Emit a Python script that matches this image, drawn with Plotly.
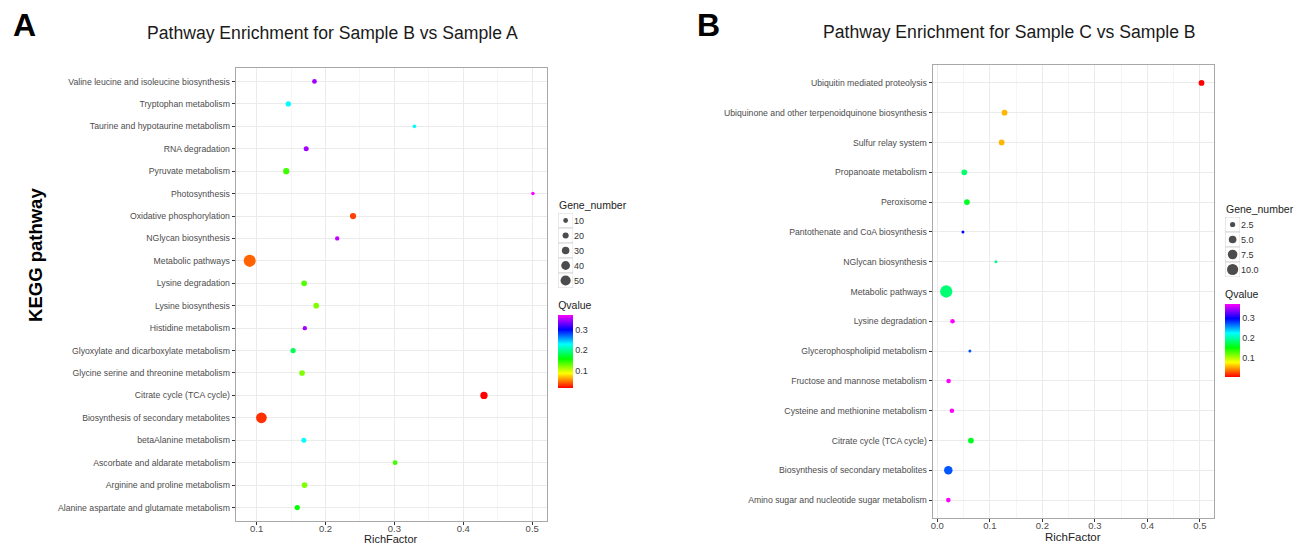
import numpy as np
import plotly.graph_objects as go

# ---------------- Panel A data (top to bottom) ----------------
pathways_a = [
    "Valine leucine and isoleucine biosynthesis", "Tryptophan metabolism",
    "Taurine and hypotaurine metabolism", "RNA degradation", "Pyruvate metabolism",
    "Photosynthesis", "Oxidative phosphorylation", "NGlycan biosynthesis",
    "Metabolic pathways", "Lysine degradation", "Lysine biosynthesis",
    "Histidine metabolism", "Glyoxylate and dicarboxylate metabolism",
    "Glycine serine and threonine metabolism", "Citrate cycle (TCA cycle)",
    "Biosynthesis of secondary metabolites", "betaAlanine metabolism",
    "Ascorbate and aldarate metabolism", "Arginine and proline metabolism",
    "Alanine aspartate and glutamate metabolism",
]
rich_a = [0.184, 0.146, 0.329, 0.172, 0.143, 0.501, 0.240, 0.217, 0.090, 0.169,
          0.1865, 0.170, 0.153, 0.166, 0.430, 0.107, 0.1686, 0.301, 0.1696, 0.159]
qvalue_a = [0.345, 0.228, 0.228, 0.345, 0.139, 0.370, 0.032, 0.353, 0.042, 0.133,
            0.121, 0.345, 0.180, 0.121, 0.014, 0.027, 0.228, 0.139, 0.121, 0.156]
genes_a = [10, 14, 2, 12, 21, 1, 21, 7, 64, 17, 17, 7, 14, 17, 29, 54, 12, 10, 17, 14]
size_breaks_a = [10, 20, 30, 40, 50]
size_labels_a = ["10", "20", "30", "40", "50"]

# ---------------- Panel B data (top to bottom) ----------------
pathways_b = [
    "Ubiquitin mediated proteolysis",
    "Ubiquinone and other terpenoidquinone biosynthesis", "Sulfur relay system",
    "Propanoate metabolism", "Peroxisome", "Pantothenate and CoA biosynthesis",
    "NGlycan biosynthesis", "Metabolic pathways", "Lysine degradation",
    "Glycerophospholipid metabolism", "Fructose and mannose metabolism",
    "Cysteine and methionine metabolism", "Citrate cycle (TCA cycle)",
    "Biosynthesis of secondary metabolites",
    "Amino sugar and nucleotide sugar metabolism",
]
rich_b = [0.503, 0.128, 0.1225, 0.0514, 0.0564, 0.0488, 0.1116, 0.017, 0.029,
          0.062, 0.0215, 0.0278, 0.064, 0.021, 0.021]
qvalue_b = [0.005, 0.057, 0.057, 0.181, 0.161, 0.297, 0.188, 0.184, 0.370,
            0.273, 0.370, 0.370, 0.161, 0.272, 0.370]
genes_b = [3, 3, 3, 3, 3, 1, 1, 12, 2, 1, 2, 2, 3, 6, 2]
size_breaks_b = [2.5, 5.0, 7.5, 10.0]
size_labels_b = ["2.5", "5.0", "7.5", "10.0"]

qvalue_ticks = [0.1, 0.2, 0.3]

W, H = 1299, 544
FONT = "Liberation Sans, Arial, sans-serif"
rainbow = [[0.0, "#FF0000"], [0.2, "#FFFF00"], [0.4, "#00FF00"],
           [0.6, "#00FFFF"], [0.8, "#0000FF"], [1.0, "#FF00FF"]]


def size_a(g):
    return 3.4 + 0.135 * np.asarray(g, dtype=float)


def size_b(g):
    return 3.774 * np.sqrt(np.asarray(g, dtype=float)) - 0.774


def px_x(p):
    return p / W


def px_y(p):
    return 1 - p / H


fig = go.Figure()

fig.add_trace(go.Scatter(
    x=rich_a, y=pathways_a, mode="markers", xaxis="x", yaxis="y",
    marker=dict(size=size_a(genes_a), color=qvalue_a, coloraxis="coloraxis",
                opacity=1, line=dict(width=0)),
    showlegend=False, hoverinfo="x+y"))
fig.add_trace(go.Scatter(
    x=rich_b, y=pathways_b, mode="markers", xaxis="x2", yaxis="y2",
    marker=dict(size=size_b(genes_b), color=qvalue_b, coloraxis="coloraxis2",
                opacity=1, line=dict(width=0)),
    showlegend=False, hoverinfo="x+y"))

# size legends drawn in small helper axes (key boxes + dots)
for labels, breaks, fn, xa, ya in [(size_labels_a, size_breaks_a, size_a, "x3", "y3"),
                                   (size_labels_b, size_breaks_b, size_b, "x4", "y4")]:
    fig.add_trace(go.Scatter(
        x=[0] * len(labels), y=labels, mode="markers", xaxis=xa, yaxis=ya,
        marker=dict(symbol="square", size=15, color="white",
                    line=dict(color="#D6D6D6", width=1)),
        showlegend=False, hoverinfo="skip"))
    fig.add_trace(go.Scatter(
        x=[0] * len(labels), y=labels, mode="markers", xaxis=xa, yaxis=ya,
        marker=dict(size=fn(breaks), color="black", line=dict(width=0)),
        showlegend=False, hoverinfo="skip"))

grid_major = "#EBEBEB"
grid_minor = "#F5F5F5"
border = "#A8A8A8"
tickfont = dict(family=FONT, size=8.7, color="#4D4D4D")


def xaxis_cfg(domain, rng, anchor):
    return dict(domain=domain, range=rng, anchor=anchor, dtick=0.1, tick0=0,
                tickformat=".1f",
                showgrid=True, gridcolor=grid_major, gridwidth=1,
                minor=dict(dtick=0.05, tick0=0, showgrid=True, gridcolor=grid_minor,
                           gridwidth=1, ticks=""),
                showline=True, mirror=True, linecolor=border, linewidth=1,
                ticks="outside", ticklen=3, tickcolor="#333333", tickwidth=1,
                ticklabelstandoff=-4,
                tickfont=dict(family=FONT, size=9.5, color="#4D4D4D"),
                zeroline=False, fixedrange=True)


def yaxis_cfg(domain, cats, anchor):
    n = len(cats)
    return dict(domain=domain, type="category", categoryorder="array",
                categoryarray=cats, range=[n - 0.4, -0.6], anchor=anchor,
                showgrid=True, gridcolor=grid_major, gridwidth=1,
                showline=True, mirror=True, linecolor=border, linewidth=1,
                ticks="outside", ticklen=3, tickcolor="#333333", tickwidth=1,
                tickfont=tickfont, zeroline=False, fixedrange=True)


def key_x(domain, anchor):
    return dict(domain=domain, range=[-1, 1], anchor=anchor, visible=False, fixedrange=True)


def key_y(domain, cats, anchor):
    n = len(cats)
    return dict(domain=domain, type="category", categoryorder="array", categoryarray=cats,
                range=[n - 0.5, -0.5], anchor=anchor, side="right", showgrid=False,
                showline=False, zeroline=False, ticks="", fixedrange=True,
                tickfont=dict(family=FONT, size=9, color="#333333"))


def colorbar_cfg(x, ytop):
    return dict(
        title=dict(text="Qvalue", side="top", font=dict(family=FONT, size=10.5, color="#222")),
        x=px_x(x), xanchor="left", y=px_y(ytop), yanchor="top",
        len=90, lenmode="pixels", thickness=15, thicknessmode="pixels",
        xpad=0, ypad=0, outlinewidth=0, ticks="", tickvals=qvalue_ticks,
        tickfont=dict(family=FONT, size=9, color="#333"))


fig.update_layout(
    width=W, height=H, margin=dict(l=0, r=0, t=0, b=0),
    paper_bgcolor="white", plot_bgcolor="white",
    font=dict(family=FONT, color="#222222"),
    showlegend=False,
    xaxis=xaxis_cfg([px_x(234), px_x(546)], [0.0696, 0.5217], "y"),
    yaxis=yaxis_cfg([px_y(521), px_y(68)], pathways_a, "x"),
    xaxis2=xaxis_cfg([px_x(932), px_x(1214)], [-0.009, 0.527], "y2"),
    yaxis2=yaxis_cfg([px_y(518), px_y(65)], pathways_b, "x2"),
    xaxis3=key_x([px_x(557), px_x(572)], "y3"),
    yaxis3=key_y([px_y(288), px_y(213)], size_labels_a, "x3"),
    xaxis4=key_x([px_x(1225), px_x(1240)], "y4"),
    yaxis4=key_y([px_y(277), px_y(217)], size_labels_b, "x4"),
    coloraxis=dict(colorscale=rainbow, colorbar=colorbar_cfg(557, 298)),
    coloraxis2=dict(colorscale=rainbow, colorbar=colorbar_cfg(1225, 287)),
)

annotations = [
    dict(text="<b>A</b>", x=px_x(23), y=px_y(25), font=dict(family=FONT, size=32, color="black")),
    dict(text="<b>B</b>", x=px_x(708), y=px_y(25), font=dict(family=FONT, size=32, color="black")),
    dict(text="Pathway Enrichment for Sample B vs Sample A", x=px_x(331), y=px_y(33),
         font=dict(family=FONT, size=17.6, color="#1a1a1a")),
    dict(text="Pathway Enrichment for Sample C vs Sample B", x=px_x(1009), y=px_y(32),
         font=dict(family=FONT, size=17.6, color="#1a1a1a")),
    dict(text="<b>KEGG pathway</b>", x=px_x(33), y=px_y(255), textangle=-90,
         font=dict(family=FONT, size=18.5, color="black")),
    dict(text="RichFactor", x=px_x(390), y=px_y(539),
         font=dict(family=FONT, size=11, color="#222")),
    dict(text="RichFactor", x=px_x(1073), y=px_y(536.5),
         font=dict(family=FONT, size=11.5, color="#222")),
    dict(text="Gene_number", x=px_x(556), y=px_y(205), xanchor="left",
         font=dict(family=FONT, size=10.5, color="#222")),
    dict(text="Gene_number", x=px_x(1224), y=px_y(209), xanchor="left",
         font=dict(family=FONT, size=10.5, color="#222")),
]
for a in annotations:
    a.setdefault("xanchor", "center")
    a.update(xref="paper", yref="paper", showarrow=False, yanchor="middle")
fig.update_layout(annotations=annotations)

fig.write_html("out.html", config={"displayModeBar": False},
               post_script="document.body.style.margin='0';")
